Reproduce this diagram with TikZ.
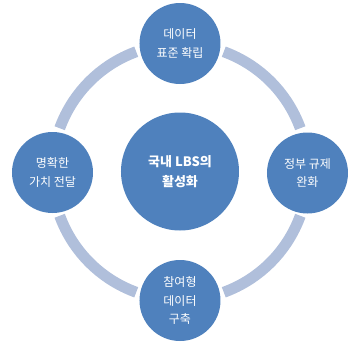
\documentclass[tikz,border=0pt]{standalone}
\usepackage{fontspec}
\newfontfamily\kr{Noto Sans CJK KR}
\definecolor{nodeblue}{HTML}{4F81BD}
\definecolor{ringblue}{HTML}{B0BFDB}
\begin{document}
\begin{tikzpicture}[x=1pt,y=1pt,
  sat/.style={circle, fill=nodeblue, minimum size=81pt, inner sep=0pt, text=white, align=center,
    font=\kr\fontsize{12}{18.5}\selectfont},
  hub/.style={circle, fill=nodeblue, minimum size=118pt, inner sep=0pt, text=white, align=center,
    font=\kr\bfseries\fontsize{13}{19.5}\selectfont},
  ring/.style={ringblue, line width=11pt}]
\useasboundingbox (0,0) rectangle (360,-343);
\coordinate (c) at (180,-172);
\foreach \a in {20,110,200,290}{
  \draw[ring] ([shift={(\a:128)}]c) arc[start angle=\a, end angle=\a+50, radius=128];
}
\node[hub] (hub) at (180,-171.5) {국내 LBS의\\활성화};
\node[sat] (top) at (180,-43.5) {데이터\\표준 확립};
\node[sat] (right) at (307.5,-173) {정부 규제\\완화};
\node[sat] (bottom) at (180,-300.5) {참여형\\데이터\\구축};
\node[sat] (left) at (52.5,-172.5) {명확한\\가치 전달};
\end{tikzpicture}
\end{document}
